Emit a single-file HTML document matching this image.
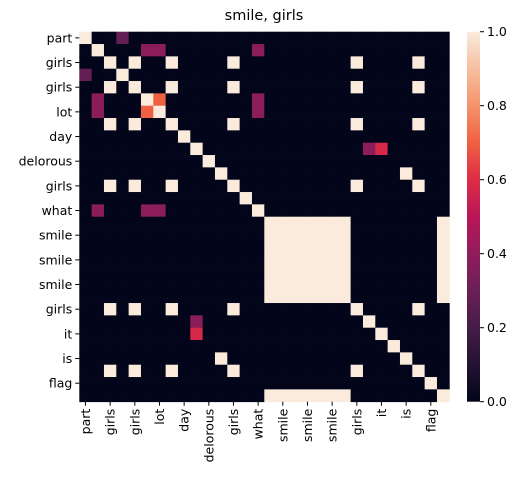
<!DOCTYPE html>
<html><head><meta charset="utf-8"><style>
body{margin:0;background:#fff;}
svg{display:block;font-family:"DejaVu Sans","Liberation Sans",sans-serif;}
</style></head><body>
<svg id="chart" width="532" height="481">
<text x="264" y="20" text-anchor="middle" font-size="14.5" fill="#000">smile, girls</text>
<g id="cells"></g>
<g id="ylab"></g>
<g id="xlab"></g>
<defs><linearGradient id="cbg" x1="0" y1="1" x2="0" y2="0"></linearGradient></defs>
<rect x="467" y="31.7" width="13" height="370" fill="url(#cbg)"/>
<g id="cbticks"></g>
</svg>
<script>
const tickLabels = ["part","girls","girls","lot","day","delorous","girls","what","smile","smile","smile","girls","it","is","flag"];
const nTokens = 30;
const girlsGroup = [2,4,7,12,22,27];
const smileGroup = [15,16,17,18,19,20,21,29];
const pairs = [[0,3],[1,5],[1,6],[1,14],[5,14],[6,14],[9,23],[11,26],[5,6],[9,24]];
const pairValues = [0.28,0.38,0.38,0.38,0.38,0.38,0.38,1,0.7,0.58];
const cbTicks = [0,0.2,0.4,0.6,0.8,1.0];

const stops=[[0,"#03051a"],[0.1,"#221331"],[0.2,"#451c47"],[0.3,"#6a1f56"],[0.4,"#921c5b"],[0.5,"#b91657"],[0.6,"#dd2c45"],[0.7,"#f06043"],[0.8,"#f5936a"],[0.9,"#f6bfa0"],[1,"#faebdd"]];
function hex(h){return [1,3,5].map(i=>parseInt(h.substr(i,2),16));}
function cmap(v){v=Math.max(0,Math.min(1,v));for(let i=1;i<stops.length;i++){if(v<=stops[i][0]){const a=stops[i-1],b=stops[i];const t=(v-a[0])/(b[0]-a[0]);const ca=hex(a[1]),cb=hex(b[1]);return "rgb("+ca.map((c,k)=>Math.round(c+(cb[k]-c)*t)).join(",")+")";}}return stops[stops.length-1][1];}

const M=[];for(let i=0;i<nTokens;i++){M.push(new Array(nTokens).fill(0));M[i][i]=1;}
[girlsGroup,smileGroup].forEach(g=>g.forEach(a=>g.forEach(b=>{M[a][b]=1;})));
pairs.forEach((p,k)=>{M[p[0]][p[1]]=pairValues[k];M[p[1]][p[0]]=pairValues[k];});

const x0=79.3,y0=31.7,W=370,cs=W/nTokens;
const xS=c=>x0+c*cs, yS=r=>y0+r*cs;
const NS="http://www.w3.org/2000/svg";
const cells=document.getElementById('cells');
for(let r=0;r<nTokens;r++)for(let c=0;c<nTokens;c++){
 const e=document.createElementNS(NS,'rect');
 e.setAttribute('x',xS(c));e.setAttribute('y',yS(r));e.setAttribute('width',cs+0.4);e.setAttribute('height',cs+0.4);
 e.setAttribute('fill',cmap(M[r][c]));
 
 
 cells.appendChild(e);
}
const yl=document.getElementById('ylab'),xl=document.getElementById('xlab');
tickLabels.forEach((t,i)=>{
 const idx=i*2, cy=yS(idx+0.5), cx=xS(idx+0.5);
 const ln=document.createElementNS(NS,'line');ln.setAttribute('x1',x0-4);ln.setAttribute('x2',x0);ln.setAttribute('y1',cy);ln.setAttribute('y2',cy);ln.setAttribute('stroke','#000');
 
 
 yl.appendChild(ln);
 const tx=document.createElementNS(NS,'text');tx.setAttribute('x',x0-7);tx.setAttribute('y',cy+4.5);tx.setAttribute('text-anchor','end');tx.setAttribute('font-size','12.5');tx.textContent=t;
 
 
 yl.appendChild(tx);
 const l2=document.createElementNS(NS,'line');l2.setAttribute('x1',cx);l2.setAttribute('x2',cx);l2.setAttribute('y1',y0+W);l2.setAttribute('y2',y0+W+4);l2.setAttribute('stroke','#000');
 
 
 xl.appendChild(l2);
 const t2=document.createElementNS(NS,'text');t2.setAttribute('transform','translate('+(cx+4.5)+','+(y0+W+7)+') rotate(-90)');t2.setAttribute('text-anchor','end');t2.setAttribute('font-size','12.5');t2.textContent=t;
 
 
 xl.appendChild(t2);
});
const g=document.getElementById('cbg');
stops.forEach(s=>{const st=document.createElementNS(NS,'stop');st.setAttribute('offset',s[0]);st.setAttribute('stop-color',s[1]);g.appendChild(st);});
const cb=document.getElementById('cbticks');
cbTicks.forEach(v=>{
 const y=y0+W-v*W;
 const ln=document.createElementNS(NS,'line');ln.setAttribute('x1',480);ln.setAttribute('x2',484);ln.setAttribute('y1',y);ln.setAttribute('y2',y);ln.setAttribute('stroke','#000');
 
 
 cb.appendChild(ln);
 const tx=document.createElementNS(NS,'text');tx.setAttribute('x',487);tx.setAttribute('y',y+4.5);tx.setAttribute('font-size','12.5');tx.textContent=v.toFixed(1);
 
 
 cb.appendChild(tx);
});
</script>
</body></html>
